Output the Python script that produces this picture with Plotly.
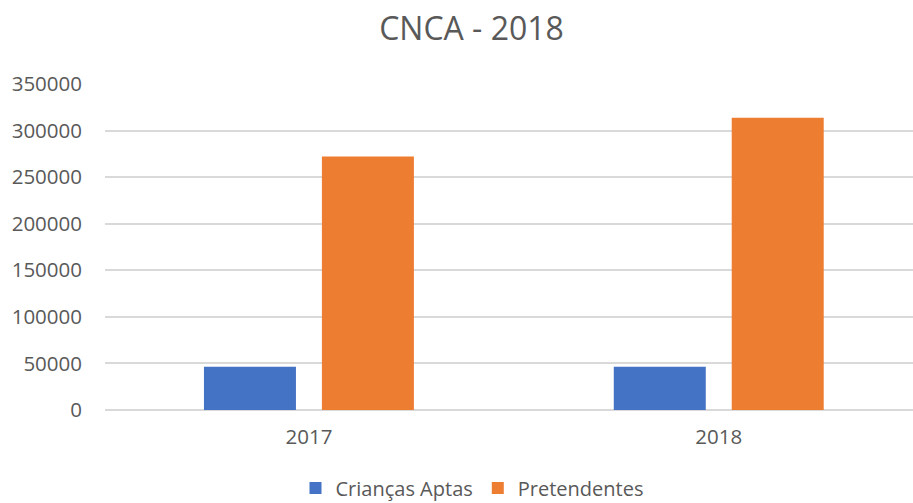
import plotly.graph_objects as go

years = ["2017", "2018"]
criancas_aptas = [46300, 46400]
pretendentes = [272200, 313700]
y_ticks = [0, 50000, 100000, 150000, 200000, 250000, 300000, 350000]

TEXT = "#595959"
FONT = "Open Sans"

fig = go.Figure()
fig.add_trace(go.Bar(name="Crianças Aptas", x=years, y=criancas_aptas,
                     marker=dict(color="#4472C4", line=dict(width=0))))
fig.add_trace(go.Bar(name="Pretendentes", x=years, y=pretendentes,
                     marker=dict(color="#ED7D31", line=dict(width=0))))

fig.update_layout(
    width=913, height=503,
    margin=dict(l=105, r=0, t=84, b=93, autoexpand=False),
    paper_bgcolor="white", plot_bgcolor="white",
    barmode="group", bargap=0.4244, bargroupgap=0.22,
    title=dict(text="CNCA - 2018", x=471.5 / 913, xref="container", xanchor="center",
               y=1 - 29 / 503, yref="container", yanchor="middle",
               font=dict(family=FONT, size=32, color=TEXT)),
    font=dict(family=FONT, size=20, color=TEXT),
    legend=dict(orientation="h", xref="container", yref="container",
                x=472 / 913, xanchor="center", y=1 - 488 / 503, yanchor="middle",
                font=dict(family=FONT, size=20, color=TEXT),
                itemwidth=30, bgcolor="rgba(0,0,0,0)"),
    showlegend=True,
)
fig.update_xaxes(type="category", range=[-0.4976, 1.474], showgrid=False,
                 showline=False, ticks="", ticklabelstandoff=12,
                 tickfont=dict(family=FONT, size=20.5, color=TEXT))
fig.update_yaxes(range=[0, 350000], tickvals=y_ticks, ticktext=[str(v) for v in y_ticks],
                 showgrid=True, gridcolor="#D9D9D9", gridwidth=1.5,
                 zeroline=True, zerolinecolor="#D9D9D9", zerolinewidth=1.5,
                 showline=False, ticks="", ticklabelstandoff=22,
                 tickfont=dict(family=FONT, size=20.5, color=TEXT))

fig.write_html("out.html", config={"displayModeBar": False},
               post_script="document.body.style.margin='0';document.body.style.overflow='hidden';")
